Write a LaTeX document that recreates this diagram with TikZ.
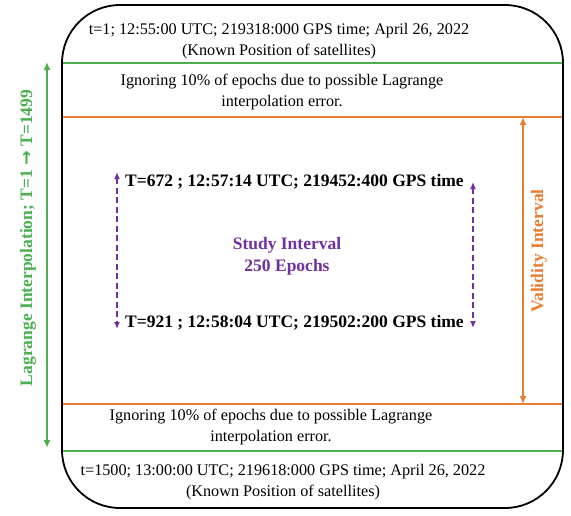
\documentclass[tikz,border=0pt]{standalone}
\usepackage{fontspec}
\setmainfont{Liberation Serif}
\newfontfamily\symfont{DejaVu Sans}
\usetikzlibrary{arrows.meta}
\definecolor{lgreen}{RGB}{76,175,80}
\definecolor{lorange}{RGB}{234,125,50}
\definecolor{lpurple}{RGB}{112,48,160}
\begin{document}
\begin{tikzpicture}[x=1pt,y=-1pt,
  txt/.style={font=\fontsize{16.2}{21}\selectfont, align=center, inner sep=0pt},
  btxt/.style={txt, font=\fontsize{17.5}{22}\selectfont\bfseries},
  greenline/.style={draw=lgreen, line width=1.5pt},
  orangeline/.style={draw=lorange, line width=1.5pt},
  greenarrow/.style={lgreen, line width=1.6pt, {Latex[length=8pt,width=7pt]}-{Latex[length=8pt,width=7pt]}},
  orangearrow/.style={lorange, line width=1.6pt, {Latex[length=8pt,width=7pt]}-{Latex[length=8pt,width=7pt]}},
  purplearrow/.style={lpurple, line width=1.8pt, dash pattern=on 6pt off 3.5pt, {Latex[length=7pt,width=6pt]}-{Latex[length=7pt,width=6pt]}}]
\useasboundingbox (0,0) rectangle (571,515);

% outer frame
\def\framepath{(62,5) rectangle (563,508)}
\begin{scope}
  \clip[rounded corners=58pt] \framepath;
  \draw[greenline] (40,63) -- (590,63);
  \draw[orangeline] (40,117) -- (590,117);
  \draw[orangeline] (40,404) -- (590,404);
  \draw[greenline] (40,451) -- (590,451);
\end{scope}
\draw[line width=1.8pt, rounded corners=58pt] \framepath;

% band texts
\node[txt] (top) at (279,41) {t=1; 12:55:00 UTC; 219318:000 GPS time; April 26, 2022\\(Known Position of satellites)};
\node[txt] (ign1) at (282,92) {Ignoring 10\% of epochs due to possible Lagrange\\interpolation error.};
\node[txt] (ign2) at (271,427) {Ignoring 10\% of epochs due to possible Lagrange\\interpolation error.};
\node[txt] (bot) at (283,482) {t=1500; 13:00:00 UTC; 219618:000 GPS time; April 26, 2022\\(Known Position of satellites)};

% study interval
\node[btxt, anchor=west] (tstart) at (125,182) {T=672 ; 12:57:14 UTC; 219452:400 GPS time};
\node[btxt, anchor=west] (tend) at (125,323) {T=921 ; 12:58:04 UTC; 219502:200 GPS time};
\node[btxt, text=lpurple] (study) at (287,256) {Study Interval\\250 Epochs};
\coordinate (pl1) at (117,172);
\coordinate (pl2) at (117,329);
\coordinate (pr1) at (473,182);
\coordinate (pr2) at (473,328);
\draw[purplearrow] (pl1) -- (pl2);
\draw[purplearrow] (pr1) -- (pr2);

% validity interval
\coordinate (v1) at (523,117);
\coordinate (v2) at (523,404);
\draw[orangearrow] (v1) -- (v2);
\node[btxt, text=lorange, rotate=90] (valid) at (539,251) {Validity Interval};

% interpolation span
\coordinate (g1) at (47,62);
\coordinate (g2) at (47,448);
\draw[greenarrow] (g1) -- (g2);
\node[btxt, text=lgreen, rotate=90] (lag) at (28,238) {Lagrange Interpolation; T=1 {\symfont\bfseries →} T=1499};
\end{tikzpicture}
\end{document}
